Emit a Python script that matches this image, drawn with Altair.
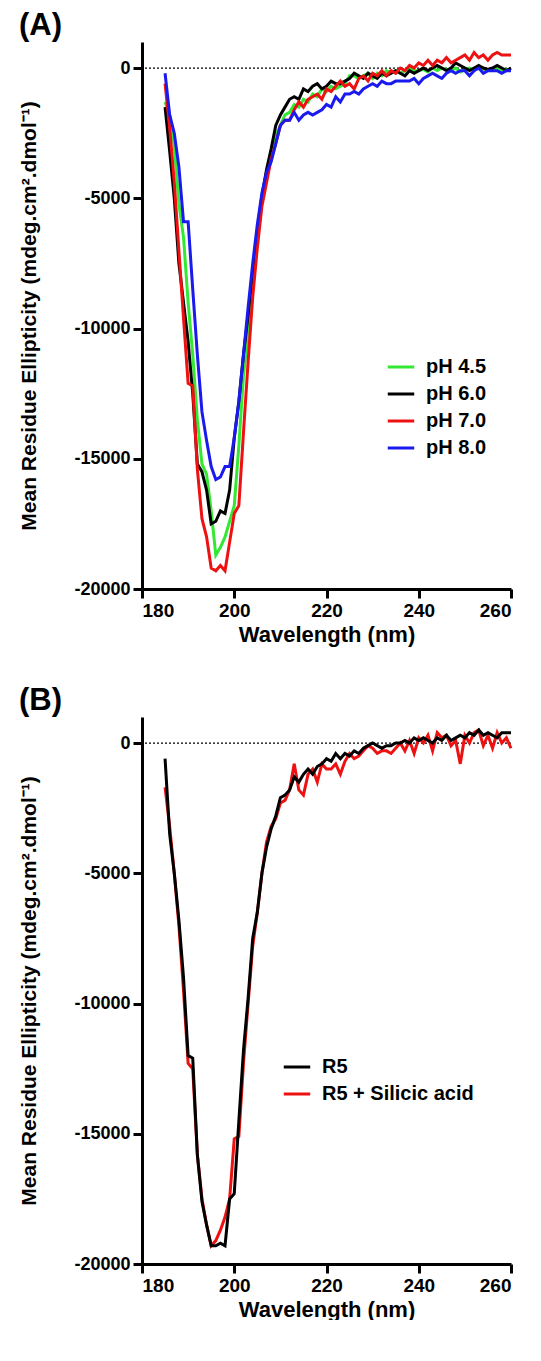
import altair as alt
import pandas as pd

wl = list(range(185, 261))

ph45 = [-1300,-1800,-3000,-5200,-6500,-9000,-11000,-13500,-15200,-15600,-17000,-18700,-18400,-18000,-17400,-16800,-14500,-11800,-10200,-8300,-6700,-5100,-4100,-3200,-2600,-2200,-1800,-1700,-1400,-1500,-1200,-1300,-1000,-1100,-800,-900,-700,-800,-700,-600,-300,-300,-400,-300,-200,-400,-200,-300,-100,-200,-100,-200,-100,0,-100,-100,-50,-150,0,-100,0,-50,-100,0,-150,-50,0,-100,0,-50,-100,-50,0,-100,-50,-100]
ph60 = [-1500,-3200,-5000,-7500,-9000,-10500,-12500,-15200,-15500,-16200,-17500,-17400,-17000,-17100,-16200,-14200,-12800,-11000,-9500,-7800,-6300,-4900,-3900,-3100,-2200,-1800,-1500,-1200,-1100,-1200,-800,-900,-700,-600,-800,-700,-500,-600,-600,-500,-400,-200,-300,-400,-200,-300,-400,-200,-300,-200,-100,-200,-300,-100,-200,-100,0,-100,0,100,0,-100,0,200,100,0,-100,0,100,0,-50,0,100,0,-100,0]
ph70 = [-600,-2300,-4400,-7000,-9600,-12100,-12200,-15400,-17300,-18000,-19200,-19300,-19100,-19300,-18200,-17100,-16800,-14000,-11300,-8800,-6900,-5300,-4400,-3500,-2900,-2200,-2000,-2000,-1600,-1300,-1500,-1200,-1100,-1000,-1200,-800,-900,-700,-500,-700,-600,-800,-400,-300,-500,-200,-300,-100,-300,-100,-200,0,-100,100,0,200,100,300,100,300,200,400,200,300,400,500,300,600,400,500,300,500,600,500,500,500]
ph80 = [-200,-1800,-2500,-3800,-5900,-5900,-8500,-11000,-13200,-14300,-15300,-15800,-15700,-15300,-15300,-14200,-12800,-11000,-9200,-7500,-6000,-4800,-4000,-3600,-2900,-2200,-2000,-2000,-1700,-2000,-1800,-1700,-1800,-1700,-1600,-1400,-1500,-1100,-1300,-1000,-1000,-900,-1000,-800,-700,-600,-700,-500,-600,-600,-500,-500,-500,-500,-400,-600,-400,-300,-200,-300,-400,-200,-100,-200,-100,-100,-300,-100,0,-200,-100,-100,-100,-200,-100,-100]

r5 = [-600,-3500,-5000,-6800,-9000,-12000,-12100,-15800,-17600,-18500,-19300,-19300,-19200,-19300,-17500,-17300,-14500,-11800,-9800,-7500,-6500,-5000,-4000,-3300,-2800,-2100,-2000,-1800,-1300,-1500,-1200,-1000,-1200,-900,-800,-600,-700,-400,-600,-400,-500,-300,-400,-200,-100,0,-100,-200,-100,-100,0,0,100,0,200,100,200,100,0,200,100,300,100,200,300,200,400,300,500,300,400,300,200,400,400,400]
r5si = [-1700,-3200,-5000,-7000,-9500,-12300,-12500,-15800,-17500,-18500,-19300,-19100,-18700,-18200,-17500,-15200,-15100,-12300,-10000,-7800,-6500,-5000,-3800,-3200,-2900,-2300,-2200,-1800,-800,-1800,-2000,-1200,-1000,-1500,-800,-1000,-1000,-800,-1200,-700,-400,-600,-500,-300,-100,-200,-400,-300,-300,-400,-200,0,-300,100,-400,200,0,300,-300,400,200,300,-100,100,-800,300,0,400,500,-100,300,-200,400,0,200,-200]

dfA = pd.concat([pd.DataFrame({"wl": wl, "v": s, "g": n}) for s, n in
                 [(ph45, "pH 4.5"), (ph60, "pH 6.0"), (ph70, "pH 7.0"), (ph80, "pH 8.0")]])
dfB = pd.concat([pd.DataFrame({"wl": wl, "v": s, "g": n}) for s, n in
                 [(r5si, "R5 + Silicic acid"), (r5, "R5")]])


def panel(df, label, domain, colors, widths, lx, ly):
    x = alt.X("wl:Q", scale=alt.Scale(domain=[180, 260], nice=False),
              axis=alt.Axis(title="Wavelength (nm)", values=[180, 200, 220, 240, 260], grid=False,
                            labelFontSize=19))
    y = alt.Y("v:Q", scale=alt.Scale(domain=[-20000, 1000], nice=False),
              axis=alt.Axis(title="Mean  Residue Ellipticity (mdeg.cm².dmol⁻¹)",
                            values=[-20000, -15000, -10000, -5000, 0], grid=False,
                            labelExpr="'' + datum.value", labelFontSize=18))
    zero = alt.Chart(pd.DataFrame({"v": [0]})).mark_rule(
        color="black", strokeDash=[2, 2], strokeWidth=1.2).encode(y=alt.Y("v:Q"))
    lines = alt.Chart(df).mark_line(strokeJoin="miter").encode(
        x=x, y=y,
        color=alt.Color("g:N", scale=alt.Scale(domain=domain, range=colors),
                        legend=alt.Legend(title=None, orient="none", legendX=lx, legendY=ly,
                                          symbolType="stroke", symbolStrokeWidth=3.5, symbolSize=700,
                                          labelFontSize=20, labelFontWeight="bold", labelColor="black",
                                          rowPadding=2, labelOffset=10)),
        strokeWidth=alt.StrokeWidth("g:N", scale=alt.Scale(domain=domain, range=widths), legend=None),
        order=alt.Order("wl:Q"),
    )
    return alt.layer(zero, lines).properties(
        width=369, height=547,
        title=alt.TitleParams(label, anchor="start", frame="bounds", fontSize=31, fontWeight="bold",
                              offset=0))

A = panel(dfA, "(A)", ["pH 4.5", "pH 6.0", "pH 7.0", "pH 8.0"],
          ["#33e833", "#000000", "#ee1111", "#1a1aee"], [3, 3, 2.2, 3], 244, 310)
B = panel(dfB, "(B)", ["R5", "R5 + Silicic acid"], ["#000000", "#ee1111"], [3, 3], 140, 335)

chart = alt.vconcat(A, B, spacing=40).resolve_scale(
    color="independent", strokeWidth="independent"
).properties(padding={"left": 10, "top": 2, "right": 0, "bottom": 0}).configure_view(stroke=None).configure_axis(
    domainColor="black", domainWidth=3, tickColor="black", tickWidth=3, tickSize=9,
    labelFontWeight="bold", labelColor="black", labelFont="Liberation Sans",
    titleFontSize=21, titleFontWeight="bold", titleColor="black", titleFont="Liberation Sans",
    labelPadding=3,
).configure_axisY(titlePadding=34).configure_axisX(titlePadding=4, titleFontSize=22).configure_title(
    font="Liberation Sans", color="black").configure_legend(labelFont="Liberation Sans")

chart.save("out.html", embed_options={"renderer": "svg", "actions": False})
